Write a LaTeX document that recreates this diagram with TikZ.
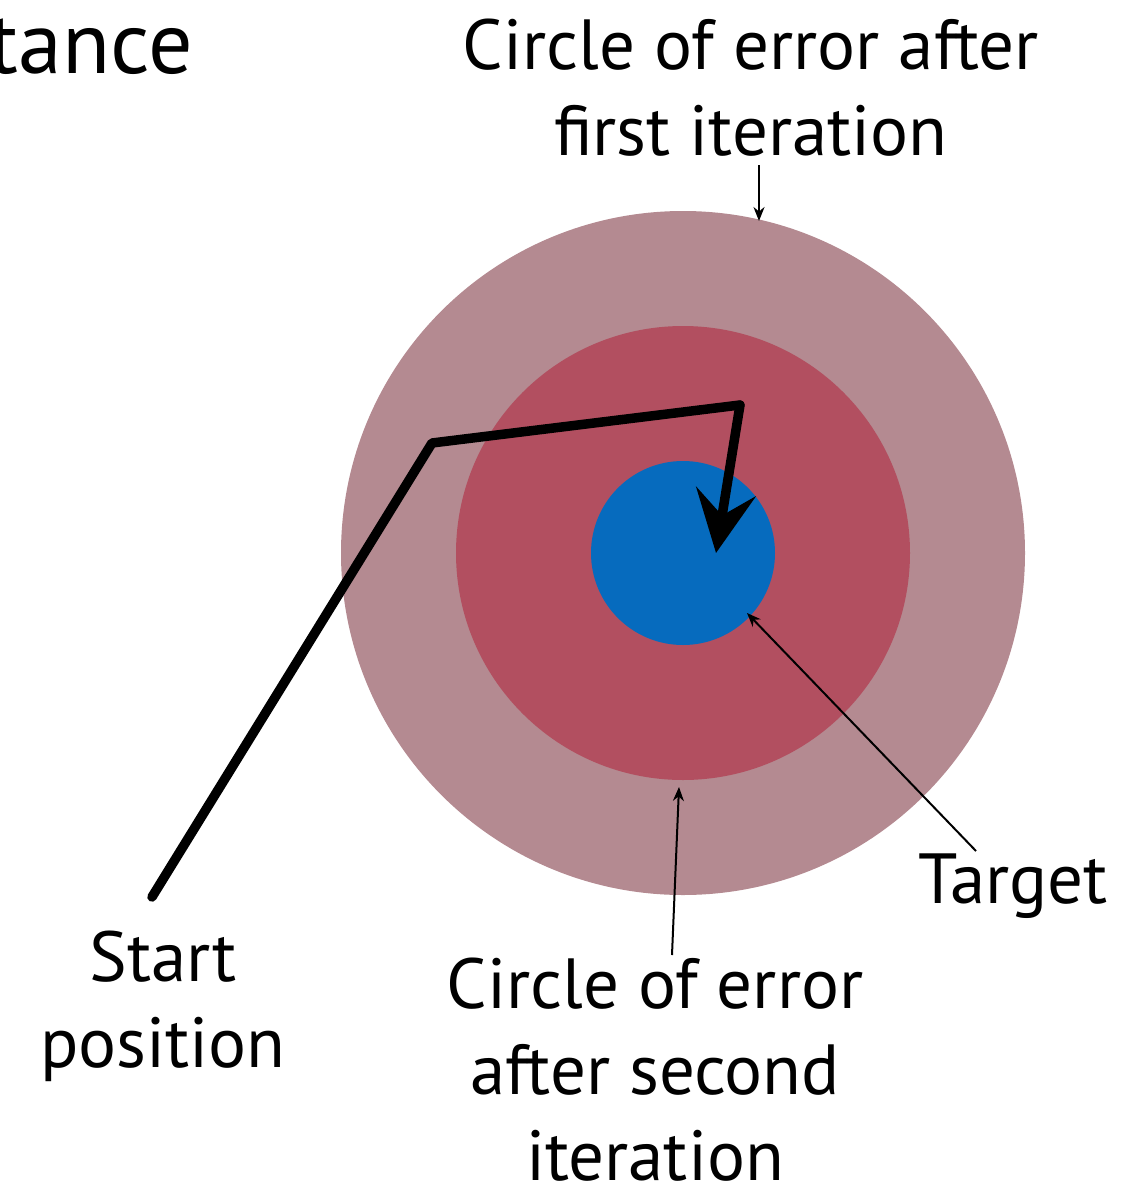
\documentclass[tikz,border=0pt]{standalone}
\usepackage{fontspec}
\setmainfont{PT Sans}
\usetikzlibrary{arrows.meta}
\definecolor{outerc}{HTML}{B48A91}
\definecolor{midc}{HTML}{B24F60}
\definecolor{targc}{HTML}{066BBE}
\begin{document}
\begin{tikzpicture}[x=1pt,y=-1pt,
  lbl/.style={align=center,anchor=base,inner sep=0pt,font=\fontsize{71}{86}\selectfont},
  pointer/.style={line width=2pt,-{Stealth[length=14pt,width=11pt]}},
  route/.style={line width=9.5pt,line join=round,line cap=round},
  ring/.style={circle,inner sep=0pt}]
\useasboundingbox (0,0) rectangle (1135,1194);
\node[ring,fill=outerc,minimum size=684pt] (outer) at (683,553) {};
\node[ring,fill=midc,minimum size=454pt] (mid) at (683,553) {};
\node[ring,fill=targc,minimum size=184pt] (targ) at (683,553) {};
\node[anchor=base east,inner sep=0pt,font=\fontsize{88}{88}\selectfont] (title) at (193,73) {tance};
\node[lbl] (first) at (751,155) {Circle of error after\\first iteration};
\node[lbl] (start) at (163,1067) {Start\\position};
\node[lbl,anchor=base west] (target) at (918,903) {Target};
\node[lbl] (second) at (655,1180) {Circle of error\\after second\\iteration};
\coordinate (p0) at (152,897);
\coordinate (p1) at (432,443);
\coordinate (p2) at (740,405);
\coordinate (p3) at (716,553);
\draw[route] (p0) -- (p1) -- (p2);
\draw[route,-{Stealth[length=62pt,width=60pt,inset=24pt]}] (p2) -- (p3);
\coordinate (a1s) at (759,165);
\coordinate (a1e) at (759,221);
\draw[pointer] (a1s) -- (a1e);
\coordinate (a2s) at (976,851);
\coordinate (a2e) at (747,613);
\draw[pointer] (a2s) -- (a2e);
\coordinate (a3s) at (672,955);
\coordinate (a3e) at (679,787);
\draw[pointer] (a3s) -- (a3e);
\end{tikzpicture}
\end{document}
